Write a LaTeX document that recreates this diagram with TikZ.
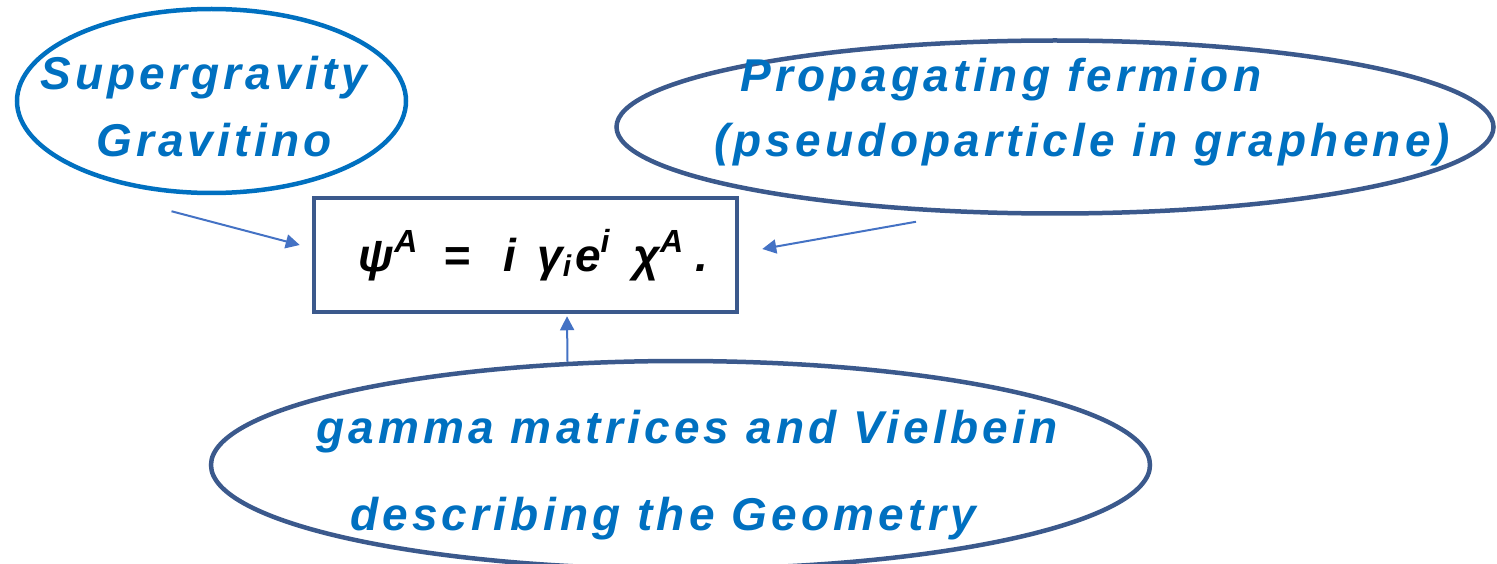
\documentclass[tikz,border=0pt]{standalone}
\usepackage{fontspec}
\setmainfont{Liberation Sans}
\newfontfamily\lblfont[LetterSpace=9.1]{Liberation Sans}
\usepackage{tikz}
\usetikzlibrary{shapes, shapes.geometric, arrows.meta, positioning, calc}
\usepackage{xcolor}
\definecolor{labelBlue}{RGB}{0, 112, 192}
\definecolor{edgeBlue}{RGB}{59, 89, 140}
\definecolor{arrowBlue}{RGB}{68, 114, 196}
\newcommand{\upidx}[1]{\raisebox{0.4em}{\fontsize{32}{32}\selectfont #1}}
\newcommand{\dnidx}[1]{\raisebox{-0.12em}{\fontsize{30}{30}\selectfont #1}}

\begin{document}
\begin{tikzpicture}[
        x=1pt, y=-1pt,
        font=\lblfont\fontsize{46}{50}\selectfont\bfseries\itshape,
        bubble/.style={ellipse, draw=edgeBlue, line width=4.5pt, inner sep=0pt},
        textlbl/.style={anchor=base west, inner sep=0pt, text=labelBlue},
        eqbox/.style={rectangle, draw=edgeBlue, line width=4.5pt, minimum width=423pt, minimum height=114pt, inner sep=0pt},
        arrow/.style={-{Triangle[length=14pt, width=14pt]}, line width=2pt, arrowBlue}
    ]
        \useasboundingbox (0,0) rectangle (1497,564);

        % Bubbles
        \node[bubble, draw=labelBlue, minimum width=389pt, minimum height=184pt] (sugra) at (211.5,101) {};
        \node[bubble, minimum width=877pt, minimum height=173pt] (fermion) at (1055,127) {};
        \node[bubble, minimum width=939pt, minimum height=208pt] (gamma) at (680.5,465) {};

        % Labels
        \node[textlbl] (sugraA) at (40,90) {Supergravity};
        \node[textlbl] (sugraB) at (96,157) {Gravitino};
        \node[textlbl] (fermionA) at (740,92) {Propagating fermion};
        \node[textlbl] (fermionB) at (714,157) {(pseudoparticle in graphene)};
        \node[textlbl] (gammaA) at (316,443) {gamma matrices and Vielbein};
        \node[textlbl] (gammaB) at (350,530) {describing the Geometry};

        % Equation
        \node[eqbox, font=\fontsize{46}{50}\selectfont\bfseries\itshape] (eq) at (525.5,255)
            {\hspace*{16pt}ψ\upidx{A}\hspace{26pt}=\hspace{33pt}i\hspace{21pt}γ\dnidx{i}\hspace{4pt}e\upidx{i}\hspace{24pt}χ\upidx{A}\hspace{12pt}.};

        \draw[arrow] ([shift={(-40,16)}]sugra.south) -- ([shift={(-12,-10)}]eq.west);
        \draw[arrow] ([shift={(-139,6)}]fermion.south) -- ([shift={(23,-6)}]eq.east);
        \draw[arrow] ([shift={(-113,3)}]gamma.north) -- ([shift={(41.5,2)}]eq.south);
    \end{tikzpicture}
\end{document}
